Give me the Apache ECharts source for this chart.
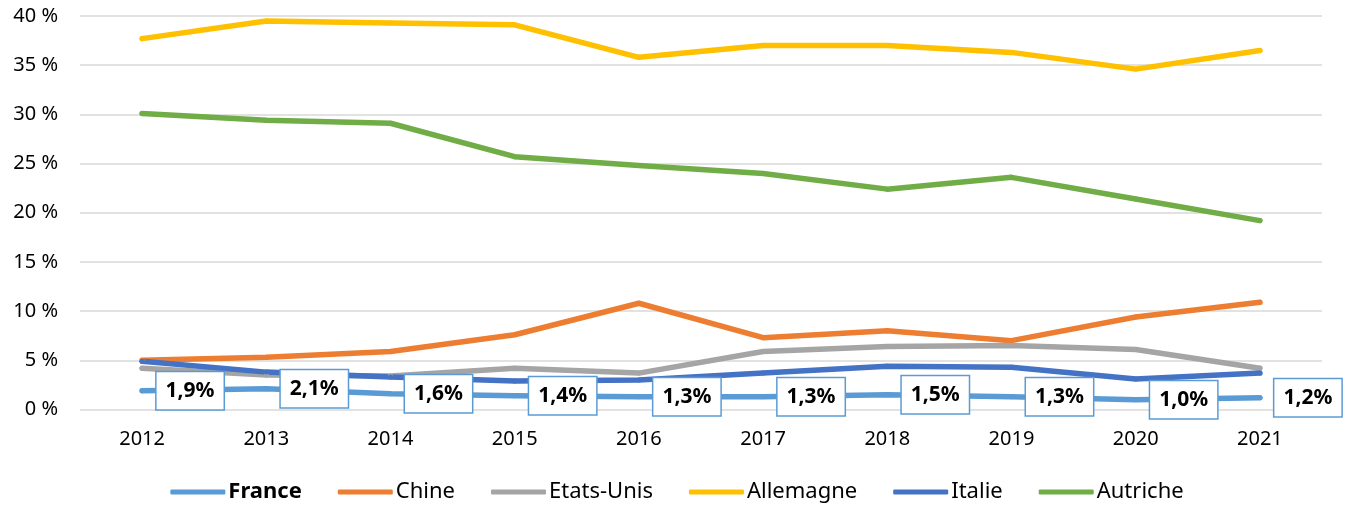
<!DOCTYPE html>
<html>
<head>
<meta charset="utf-8">
<script src="https://cdn.jsdelivr.net/npm/echarts@6/dist/echarts.min.js"></script>
<style>
  html, body { margin: 0; padding: 0; background: #fff; }
  #chart { width: 1354px; height: 510px; }
</style>
</head>
<body>
<div id="chart"></div>
<script>
// années
const years = ['2012', '2013', '2014', '2015', '2016', '2017', '2018', '2019', '2020', '2021'];

// parts en %
const france    = [1.9, 2.1, 1.6, 1.4, 1.3, 1.3, 1.5, 1.3, 1.0, 1.2];
const chine     = [5.0, 5.3, 5.9, 7.6, 10.8, 7.3, 8.0, 7.0, 9.4, 10.9];
const etatsUnis = [4.2, 3.5, 3.4, 4.2, 3.7, 5.9, 6.4, 6.5, 6.1, 4.2];
const allemagne = [37.7, 39.5, 39.3, 39.1, 35.8, 37.0, 37.0, 36.3, 34.6, 36.5];
const italie    = [4.9, 3.8, 3.3, 2.9, 3.0, 3.7, 4.4, 4.3, 3.1, 3.7];
const autriche  = [30.1, 29.4, 29.1, 25.7, 24.8, 24.0, 22.4, 23.6, 21.4, 19.2];

const yTicks = [0, 5, 10, 15, 20, 25, 30, 35, 40];

const FONT = '"Noto Sans", sans-serif';

const chart = echarts.init(document.getElementById('chart'));

const lineSeries = (name, data, color, extra) => Object.assign({
  name: name,
  type: 'line',
  data: data,
  symbol: 'circle',
  symbolSize: 5,
  showSymbol: true,
  itemStyle: { color: color },
  lineStyle: { color: color, width: 5.5, cap: 'round', join: 'round' },
  emphasis: { disabled: true },
  animation: false
}, extra || {});

chart.setOption({
  backgroundColor: '#fff',
  textStyle: { fontFamily: FONT },
  grid: { left: 80, right: 32, top: 16, bottom: 100.5 },
  legend: {
    bottom: 2,
    left: 'center',
    icon: 'roundRect',
    itemWidth: 55,
    itemHeight: 5,
    itemGap: 36,
    textStyle: { fontFamily: FONT, fontSize: 22, color: '#000', padding: [0, 0, 0, -2] },
    data: [
      { name: 'France', textStyle: { fontWeight: 'bold' } },
      'Chine', 'Etats-Unis', 'Allemagne', 'Italie', 'Autriche'
    ]
  },
  xAxis: {
    type: 'category',
    data: years,
    boundaryGap: true,
    axisLine: { show: false },
    axisTick: { show: false },
    axisLabel: { fontFamily: FONT, fontSize: 20, color: '#000', margin: 20 }
  },
  yAxis: {
    type: 'value',
    min: yTicks[0],
    max: yTicks[yTicks.length - 1],
    interval: 5,
    axisLine: { show: false },
    axisTick: { show: false },
    splitLine: { lineStyle: { color: '#D9D9D9', width: 1.5 } },
    axisLabel: {
      fontFamily: FONT, fontSize: 20, color: '#000', margin: 22,
      formatter: v => v + '\u00a0%'
    }
  },
  series: [
    lineSeries('Chine', chine, '#ED7D31'),
    lineSeries('Etats-Unis', etatsUnis, '#A5A5A5'),
    lineSeries('Allemagne', allemagne, '#FFC000'),
    lineSeries('Italie', italie, '#4472C4'),
    lineSeries('Autriche', autriche, '#70AD47'),
    lineSeries('France', france, '#5B9BD5', {
      z: 5,
      label: {
        show: true,
        position: 'right',
        distance: 12,
        formatter: p => p.value.toFixed(1).replace('.', ',') + '%',
        fontFamily: FONT,
        fontSize: 21,
        fontWeight: 'bold',
        color: '#000',
        backgroundColor: '#fff',
        borderColor: '#5B9BD5',
        borderWidth: 1.5,
        padding: [8, 9, 8, 9]
      }
    })
  ]
});
</script>
</body>
</html>
